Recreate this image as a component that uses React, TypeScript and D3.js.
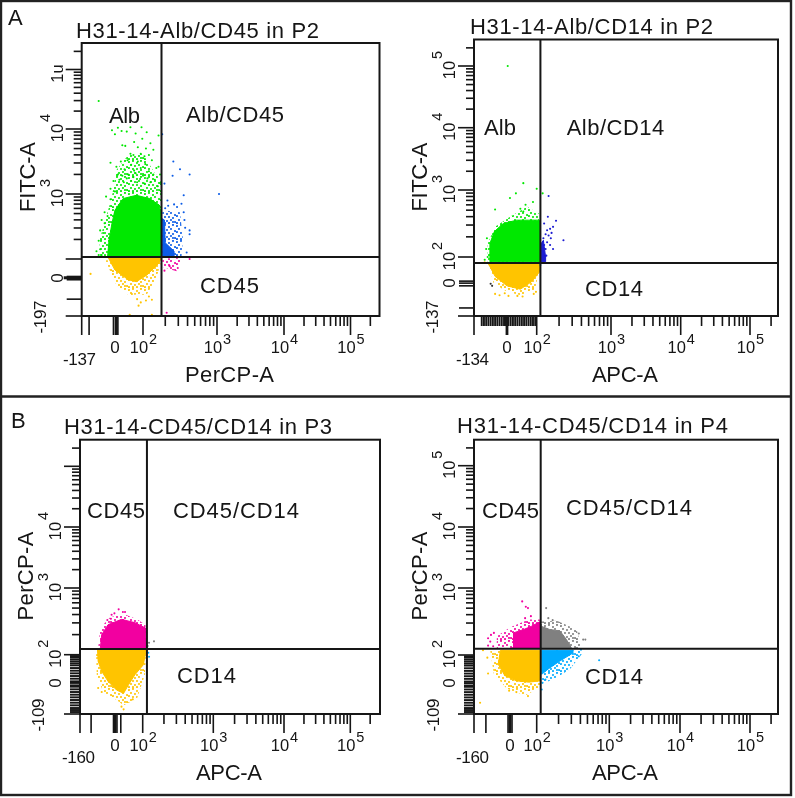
import React from "react";
import * as d3 from "d3";

type P = [number, number];

// All values are in display decades: 2 = the 10^2 tick, 3 = the 10^3 tick, and so on.
const GREEN = "#00e800", YELLOW = "#ffc400", BLUE = "#0a5ce6", NAVY = "#1a1ad2", PINK = "#f200a0", GREY = "#808080", CYAN = "#00aaff", INK = "#141414";

const a1GreenCore: P[] = [[1.52,2.03],[1.54,2.29],[1.58,2.55],[1.62,2.75],[1.73,2.93],[1.91,2.98],[2.09,2.93],[2.22,2.83],[2.25,2.65],[2.25,2.03]];
const a1GreenHalo: P[] = [[1.42,2.04],[1.41,2.29],[1.49,2.60],[1.58,2.96],[1.64,3.37],[1.80,3.60],[2.0,3.62],[2.16,3.32],[2.25,3.21],[2.25,2.03]];
const a1YellowCore: P[] = [[1.53,2.02],[1.62,1.83],[1.80,1.68],[1.91,1.65],[2.05,1.75],[2.21,1.93],[2.25,2.02]];
const a1YellowHalo: P[] = [[1.49,1.98],[1.64,1.60],[1.80,1.45],[2.05,1.45],[2.18,1.70],[2.25,1.98]];
const a1BlueCore: P[] = [[2.26,2.03],[2.26,2.62],[2.29,2.6],[2.30,2.25],[2.42,2.12],[2.42,2.03]];
const a1BlueHalo: P[] = [[2.26,2.03],[2.26,2.75],[2.50,2.72],[2.54,2.30],[2.52,2.03]];
const a1PinkHalo: P[] = [[2.26,2.01],[2.26,1.88],[2.45,1.81],[2.52,2.01]];
const a1GreenDots: P[] = [[1.40,4.47],[1.58,3.98],[1.62,3.92],[1.66,4.02],[1.71,3.97],[1.78,3.96],[1.83,4.03],[1.90,3.93],[1.98,4.03],[2.05,3.95],[2.21,3.90],
[1.72,3.75],[1.76,3.74],[1.88,3.80],[1.93,3.72],[1.99,3.85],[2.04,3.70],[2.10,3.78],[2.14,3.68],[1.83,3.62],[1.87,3.60],[1.97,3.62],[2.02,3.58],[2.08,3.60],
[1.56,3.48],[1.64,3.42],[1.70,3.50],[1.75,3.38],[1.79,3.52],[1.84,3.45],[1.88,3.36],[1.93,3.50],[1.97,3.40],[2.03,3.46],[2.08,3.35],[2.12,3.52],[2.18,3.40],[2.23,3.30],[1.66,3.30],[1.72,3.28],[1.80,3.30],[1.90,3.32],[2.00,3.28],[2.14,3.30],[2.21,3.42],
[1.60,3.20],[1.68,3.22],[1.74,3.18],[1.78,3.24],[1.84,3.20],[1.87,3.26],[1.92,3.18],[1.96,3.23],[2.02,3.16],[2.06,3.24],[2.10,3.18],[2.16,3.22],[2.20,3.12],[2.24,3.18],
[1.56,3.08],[1.62,3.04],[1.50,2.96],[1.56,2.92],[1.48,2.72],[1.52,2.66],[1.44,2.60],[1.48,2.55],[1.42,2.44],[1.46,2.40],[1.40,2.28],[1.37,2.12],[1.42,2.15],[1.44,2.06],[1.40,2.06]];
const a1BlueDots: P[] = [[2.26,3.92],[2.41,3.50],[2.50,3.38],[2.40,3.28],[2.63,3.30],[2.29,3.16],[3.03,3.00],[2.33,2.90],[2.55,2.98],[2.63,2.44],[2.63,2.38],[2.59,2.10],[2.42,2.84],[2.52,2.85],[2.56,2.60],[2.55,2.72],[2.57,2.48],[2.34,2.82],[2.46,2.80],[2.30,2.78]];
const a1PinkDots: P[] = [[2.63,2.00],[2.32,1.17],[2.29,1.82],[2.36,1.89],[2.47,1.86]];
const a1YellowDots: P[] = [[1.29,1.77],[1.82,1.14],[2.12,1.14],[1.85,1.46],[1.92,1.38],[1.97,1.33],[2.04,1.36],[1.94,1.28],[2.08,1.42],[2.12,1.37]];

const a2GreenCore: P[] = [[1.37,1.93],[1.37,2.20],[1.43,2.38],[1.55,2.50],[1.73,2.55],[1.89,2.55],[2.04,2.55],[2.04,1.93]];
const a2GreenHalo: P[] = [[1.34,1.93],[1.34,2.20],[1.44,2.45],[1.64,2.60],[1.87,2.75],[2.03,2.65],[2.04,1.93]];
const a2YellowCore: P[] = [[1.35,1.90],[1.44,1.71],[1.60,1.57],[1.78,1.52],[1.93,1.63],[2.04,1.78],[2.04,1.90]];
const a2YellowHalo: P[] = [[1.35,1.90],[1.42,1.61],[1.60,1.48],[1.78,1.43],[1.98,1.51],[2.04,1.88]];
const a2NavyCore: P[] = [[2.06,1.93],[2.06,2.2],[2.09,2.25],[2.12,2.0],[2.12,1.93]];
const a2GreenDots: P[] = [[1.61,5.00],[1.82,3.11],[2.00,3.02],[2.08,2.95],[1.72,2.95],[1.64,2.88],[1.44,2.71],[1.85,2.78],[1.95,2.82],[1.78,2.72],[1.82,2.68],[1.33,2.28],[1.32,2.12],[1.34,2.00],[1.30,1.96]];
const a2NavyDots: P[] = [[2.16,2.91],[2.15,2.60],[2.26,2.54],[2.22,2.45],[2.36,2.25],[2.10,2.50],[2.18,2.42],[2.14,2.40],[2.20,2.36],[2.16,2.32],[2.12,2.34],[2.19,2.28],[2.09,2.28],[2.14,2.22],[2.10,2.18],[2.18,2.18],[2.22,2.12],[2.12,2.12],[2.13,2.02]];
const a2YellowDots: P[] = [[1.30,1.92],[1.44,1.45],[1.50,1.43],[1.57,1.46],[1.62,1.42],[1.74,1.42],[1.81,1.41],[1.96,1.45],[1.99,1.48]];
const a2InkDots: P[] = [[1.38,1.60],[1.40,1.57]];
const a2CyanDots: P[] = [[2.05,1.88]];

const b1PinkCore: P[] = [[1.40,2.09],[1.42,2.30],[1.51,2.45],[1.70,2.53],[1.89,2.48],[2.04,2.40],[2.05,2.09]];
const b1PinkHalo: P[] = [[1.37,2.10],[1.40,2.40],[1.54,2.56],[1.73,2.61],[1.92,2.53],[2.04,2.45],[2.05,2.10]];
const b1YellowCore: P[] = [[1.36,2.08],[1.37,1.90],[1.42,1.75],[1.51,1.60],[1.63,1.47],[1.73,1.42],[1.80,1.55],[1.89,1.70],[2.01,1.85],[2.05,2.08]];
const b1YellowHalo: P[] = [[1.34,2.07],[1.35,1.70],[1.44,1.44],[1.63,1.32],[1.73,1.24],[1.92,1.34],[2.03,1.70],[2.05,2.07]];
const b1PinkDots: P[] = [[1.50,2.52],[1.55,2.54],[1.60,2.62],[1.66,2.68],[1.72,2.64],[1.75,2.64],[1.56,2.60]];
const b1YellowDots: P[] = [[1.37,1.50],[1.42,1.44],[1.70,1.22],[1.73,1.18],[1.86,1.33]];
const b1GreyDots: P[] = [[2.09,2.18],[2.16,2.20],[2.07,2.13]];
const b1CyanDots: P[] = [[2.08,2.03],[2.09,1.97]];

const b2PinkCore: P[] = [[1.68,2.10],[1.68,2.33],[1.82,2.38],[1.93,2.43],[2.05,2.50],[2.05,2.10]];
const b2PinkHalo: P[] = [[1.45,2.10],[1.45,2.28],[1.63,2.41],[1.89,2.53],[2.05,2.53],[2.05,2.10]];
const b2GreyCore: P[] = [[2.06,2.10],[2.06,2.43],[2.18,2.38],[2.32,2.36],[2.41,2.23],[2.48,2.10]];
const b2GreyHalo: P[] = [[2.06,2.10],[2.06,2.50],[2.28,2.51],[2.55,2.38],[2.62,2.10]];
const b2YellowCore: P[] = [[1.50,2.07],[1.47,1.86],[1.56,1.69],[1.72,1.61],[1.89,1.59],[2.05,1.61],[2.05,2.07]];
const b2YellowHalo: P[] = [[1.36,2.06],[1.41,1.71],[1.59,1.49],[1.84,1.39],[2.05,1.51],[2.05,2.07]];
const b2BlueCore: P[] = [[2.07,2.07],[2.07,1.71],[2.16,1.79],[2.32,1.91],[2.50,2.03],[2.50,2.07]];
const b2BlueHalo: P[] = [[2.07,2.07],[2.07,1.56],[2.28,1.66],[2.46,1.79],[2.62,2.01],[2.60,2.07]];
const b2PinkDots: P[] = [[1.37,2.30],[1.33,2.25],[1.36,2.20],[1.41,2.33],[1.40,2.13],[1.88,2.70],[1.80,2.80],[1.85,2.72],[1.92,2.58],[1.84,2.55],[1.33,2.14]];
const b2GreyDots: P[] = [[2.13,2.70],[2.16,2.55],[2.22,2.52],[2.58,2.32],[2.64,2.23],[2.67,2.23]];
const b2YellowDots: P[] = [[1.26,2.07],[1.32,1.96],[1.33,1.72],[1.22,1.28],[1.62,1.46],[1.72,1.44],[1.88,1.38]];
const b2BlueDots: P[] = [[2.08,1.58],[2.12,1.63],[2.86,1.92],[2.07,1.48],[2.58,1.98],[2.61,2.08]];

const a1XLow = [1.27, 1.60, 1.635, 1.66];
const a1YLow = [1.38, 1.68, 1.71, 1.73];
const a2XLow = [1.26,1.29,1.32,1.35,1.38,1.41,1.44,1.47,1.50,1.53,1.56,1.58,1.60,1.62,1.65,1.68,1.71,1.74,1.77,1.80,1.83,1.86,1.89,1.92,1.95,1.98];
const a2YLow = [1.24, 1.57, 1.61, 1.64];
const bYLow = [1.14,1.17,1.20,1.24,1.28,1.32,1.36,1.40,1.44,1.48,1.52,1.54,1.576,1.60,1.64,1.68,1.72,1.76,1.80,1.84,1.87,1.90,1.93,1.96,1.98];
const b1XLow = [1.27, 1.587, 1.608, 1.636, 1.69];
const b2XLow = [1.30, 1.605, 1.632, 1.66];

const xAnchors = [2, 3, 4, 5];
const yAnchors = [2, 3, 4, 5];
const xExponents = ["2", "3", "4", "5"];

type Layer = { core?: P[]; halo?: P[]; dots?: P[]; color: string };
type Txt = { t: string; x: number; y: number; w?: number };
type Cfg = {
  frame: [number, number, number, number];
  xu: number[]; xp: number[]; yu: number[]; yp: number[];
  gate: [number, number];
  xLow: number[]; yLow: number[]; xThick: number[]; yThick: number[];
  layers: Layer[];
  texts: Txt[];
  yLabel: { t: string; x: number; y: number; w: number };
  xMin: { t: string; x: number; y: number };
  yMin: { t: string; x: number; y: number };
  zeroX: number; zeroY: number; xBase: number;
  yLabels: (string | null)[];
};

const panels: Cfg[] = [
  {
    frame: [81.7, 43, 379.5, 316], xu: [1.17, 2, 3, 4, 5, 5.44], xp: [81.7, 143, 217, 284, 350.5, 379.5],
    yu: [1.12, 2, 3, 4, 5, 5.44], yp: [316, 259, 194, 129, 69.5, 43], gate: [2.25, 2.03],
    xLow: a1XLow, yLow: a1YLow, xThick: [1.635], yThick: [1.71],
    layers: [
      { halo: a1GreenHalo, core: a1GreenCore, dots: a1GreenDots, color: GREEN }, { halo: a1YellowHalo, core: a1YellowCore, dots: a1YellowDots, color: YELLOW },
      { halo: a1BlueHalo, core: a1BlueCore, dots: a1BlueDots, color: BLUE }, { halo: a1PinkHalo, dots: a1PinkDots, color: PINK },
    ],
    texts: [
      { t: "H31-14-Alb/CD45 in P2", x: 76, y: 38, w: 243 }, { t: "Alb", x: 109, y: 123, w: 31 },
      { t: "Alb/CD45", x: 186, y: 122, w: 98 }, { t: "CD45", x: 200, y: 293, w: 59 }, { t: "PerCP-A", x: 185, y: 382, w: 89 },
    ],
    yLabel: { t: "FITC-A", x: 35, y: 177, w: 70 }, xMin: { t: "-137", x: 63, y: 365 }, yMin: { t: "-197", x: 45.7, y: 317 },
    zeroX: 115, zeroY: 278, xBase: 353, yLabels: [null, "10", "10", "1u"],
  },
  {
    frame: [474, 39.5, 778, 316], xu: [1.156, 2, 3, 4, 5, 5.40], xp: [474, 536.7, 611, 680.7, 750, 778],
    yu: [1.12, 2, 3, 4, 5, 5.44], yp: [316, 257, 190, 127.7, 66, 39.5], gate: [2.05, 1.91],
    xLow: a2XLow, yLow: a2YLow, xThick: [1.60], yThick: [],
    layers: [
      { halo: a2GreenHalo, core: a2GreenCore, dots: a2GreenDots, color: GREEN }, { halo: a2YellowHalo, core: a2YellowCore, dots: a2YellowDots, color: YELLOW },
      { core: a2NavyCore, dots: a2NavyDots, color: NAVY }, { dots: a2InkDots, color: "#333" }, { dots: a2CyanDots, color: CYAN },
    ],
    texts: [
      { t: "H31-14-Alb/CD14 in P2", x: 470, y: 34, w: 243 }, { t: "Alb", x: 484, y: 135, w: 32 },
      { t: "Alb/CD14", x: 566.7, y: 135, w: 97.5 }, { t: "CD14", x: 585, y: 296, w: 58 }, { t: "APC-A", x: 592, y: 382, w: 66 },
    ],
    yLabel: { t: "FITC-A", x: 427, y: 177, w: 69 }, xMin: { t: "-134", x: 456, y: 365 }, yMin: { t: "-137", x: 438, y: 317 },
    zeroX: 507, zeroY: 283, xBase: 353, yLabels: ["10", "10", "10", "10"],
  },
  {
    frame: [80, 439.7, 380, 714], xu: [1.113, 2, 3, 4, 5, 5.45], xp: [80, 142.7, 213.3, 284, 350.3, 380],
    yu: [1.11, 2, 3, 4, 5, 5.44], yp: [714, 654.7, 588, 527, 466.3, 439.7], gate: [2.06, 2.085],
    xLow: b1XLow, yLow: bYLow, xThick: [1.608], yThick: [],
    layers: [
      { halo: b1PinkHalo, core: b1PinkCore, dots: b1PinkDots, color: PINK }, { halo: b1YellowHalo, core: b1YellowCore, dots: b1YellowDots, color: YELLOW },
      { dots: b1GreyDots, color: GREY }, { dots: b1CyanDots, color: CYAN },
    ],
    texts: [
      { t: "H31-14-CD45/CD14 in P3", x: 64, y: 433.7, w: 268 }, { t: "CD45", x: 87, y: 518, w: 58 },
      { t: "CD45/CD14", x: 173, y: 518, w: 126 }, { t: "CD14", x: 177, y: 683, w: 59 }, { t: "APC-A", x: 196, y: 780, w: 66 },
    ],
    yLabel: { t: "PerCP-A", x: 33, y: 576, w: 89 }, xMin: { t: "-160", x: 62, y: 763 }, yMin: { t: "-109", x: 44, y: 715 },
    zeroX: 115, zeroY: 683, xBase: 751, yLabels: ["10", "10", "10", null],
  },
  {
    frame: [474, 439.7, 778, 714], xu: [1.136, 2, 3, 4, 5, 5.40], xp: [474, 536.7, 609.3, 680, 750, 778],
    yu: [1.11, 2, 3, 4, 5, 5.44], yp: [714, 655, 588, 527, 465.7, 439.7], gate: [2.055, 2.095],
    xLow: b2XLow, yLow: bYLow, xThick: [1.632], yThick: [],
    layers: [
      { halo: b2PinkHalo, core: b2PinkCore, dots: b2PinkDots, color: PINK }, { halo: b2GreyHalo, core: b2GreyCore, dots: b2GreyDots, color: GREY },
      { halo: b2YellowHalo, core: b2YellowCore, dots: b2YellowDots, color: YELLOW }, { halo: b2BlueHalo, core: b2BlueCore, dots: b2BlueDots, color: CYAN },
    ],
    texts: [
      { t: "H31-14-CD45/CD14 in P4", x: 457, y: 433, w: 271 }, { t: "CD45", x: 482, y: 518, w: 57 },
      { t: "CD45/CD14", x: 566, y: 514.7, w: 126 }, { t: "CD14", x: 585, y: 684, w: 58 }, { t: "APC-A", x: 592, y: 780, w: 66 },
    ],
    yLabel: { t: "PerCP-A", x: 427, y: 576, w: 89 }, xMin: { t: "-160", x: 456, y: 763 }, yMin: { t: "-109", x: 439, y: 715 },
    zeroX: 510, zeroY: 683, xBase: 751, yLabels: ["10", "10", "10", "10"],
  },
];

const FONT = "'Liberation Sans', Arial, sans-serif";
const stippleColors = [GREEN, YELLOW, BLUE, PINK, GREY, CYAN];
const stippleTile: P[] = [[1,2],[5,1],[9,3],[13,1],[3,5],[7,6],[11,5],[15,7],[1,8],[5,9],[9,9],[13,10],[3,12],[7,13],[11,12],[15,14],[1,15],[9,15],[5,15],[13,14]];

function minorTicks(max: number) {
  const out: number[] = [];
  for (let d = 2; d <= 5; d++) for (let k = 2; k <= 9; k++) { const u = d + Math.log10(k); if (u < max) out.push(u); }
  return out;
}

function Panel({ c }: { c: Cfg }) {
  const [l, t, r, b] = c.frame;
  const x = d3.scaleLinear().domain(c.xu).range(c.xp);
  const y = d3.scaleLinear().domain(c.yu).range(c.yp);
  const area = d3.line<P>().x((d) => x(d[0])).y((d) => y(d[1])).curve(d3.curveLinearClosed);
  const xMax = c.xu[c.xu.length - 1], yMax = c.yu[c.yu.length - 1];
  const xLong = [c.xu[0], ...xAnchors];
  const yLong = [c.yu[0], ...yAnchors];
  const yExp = ["2", "3", "4", "5"];
  const denseX = c.xLow.length > 10, denseY = c.yLow.length > 10;
  return (
    <g>
      {c.layers.map((ly, i) => (
        <g key={i} fill={ly.color}>
          {ly.halo && <path d={area(ly.halo) ?? ""} fill={`url(#st${stippleColors.indexOf(ly.color)})`} />}
          {ly.core && <path d={area(ly.core) ?? ""} stroke={ly.color} strokeWidth={1} />}
          {ly.dots?.map((d, j) => <circle key={j} cx={x(d[0])} cy={y(d[1])} r={1.05} />)}
        </g>
      ))}
      <g stroke={INK} strokeWidth={1.6} fill="none">
        {minorTicks(xMax).map((u) => <line key={u} x1={x(u)} x2={x(u)} y1={b} y2={b + 10} />)}
        {minorTicks(yMax).map((u) => <line key={u} y1={y(u)} y2={y(u)} x1={l} x2={l - 8} />)}
        {xLong.map((u) => <line key={u} x1={x(u)} x2={x(u)} y1={b} y2={b + 19} />)}
        {yLong.map((u) => <line key={u} y1={y(u)} y2={y(u)} x1={l} x2={l - 16} />)}
        {c.xLow.map((u) => <line key={u} x1={x(u)} x2={x(u)} y1={b} y2={b + (denseX ? 10 : 19)} strokeWidth={denseX ? 1.9 : 1.6} />)}
        {c.yLow.map((u) => <line key={u} y1={y(u)} y2={y(u)} x1={l} x2={l - (denseY ? 10 : 15)} strokeWidth={denseY ? 1.9 : 1.6} />)}
        {c.xThick.map((u) => <line key={u} x1={x(u)} x2={x(u)} y1={b} y2={b + 19} strokeWidth={2.8} />)}
        {c.yThick.map((u) => <line key={u} y1={y(u)} y2={y(u)} x1={l} x2={l - 18} strokeWidth={3} />)}
        <rect x={l} y={t} width={r - l} height={b - t} strokeWidth={2} />
        <line x1={x(c.gate[0])} x2={x(c.gate[0])} y1={t} y2={b} strokeWidth={2} />
        <line x1={l} x2={r} y1={y(c.gate[1])} y2={y(c.gate[1])} strokeWidth={2} />
      </g>
      <g fill={INK} fontFamily={FONT}>
        {c.texts.map((s) => (
          <text key={s.t + s.x} x={s.x} y={s.y} fontSize={22} textLength={s.w} lengthAdjust="spacing">{s.t}</text>
        ))}
        <text transform={`translate(${c.yLabel.x},${c.yLabel.y}) rotate(-90)`} fontSize={22} textAnchor="middle" textLength={c.yLabel.w} lengthAdjust="spacing">{c.yLabel.t}</text>
        <text x={c.xMin.x} y={c.xMin.y} fontSize={17} textLength={33} lengthAdjust="spacing">{c.xMin.t}</text>
        <text transform={`translate(${c.yMin.x},${c.yMin.y}) rotate(-90)`} fontSize={17} textAnchor="middle" textLength={33} lengthAdjust="spacing">{c.yMin.t}</text>
        <text x={c.zeroX} y={c.xBase} fontSize={17} textAnchor="middle">0</text>
        <text transform={`translate(${l - 19},${c.zeroY}) rotate(-90)`} fontSize={17} textAnchor="middle">0</text>
        {xAnchors.map((u, i) => (
          <g key={u}>
            <text x={x(u) - 4} y={c.xBase} fontSize={16.5} textAnchor="middle">10</text>
            <text x={x(u) + 10} y={c.xBase - 9} fontSize={14.5} textAnchor="middle">{xExponents[i]}</text>
          </g>
        ))}
        {yAnchors.map((u, i) => {
          const lab = c.yLabels[i];
          if (!lab) return null;
          return (
            <g key={u}>
              <text transform={`translate(${l - 19},${y(u) + 4}) rotate(-90)`} fontSize={16.5} textAnchor="middle">{lab}</text>
              {lab === "10" && <text transform={`translate(${l - 32},${y(u) - 11}) rotate(-90)`} fontSize={14.5} textAnchor="middle">{yExp[i]}</text>}
            </g>
          );
        })}
      </g>
    </g>
  );
}

export default function App() {
  return (
    <svg width={795} height={798} style={{ position: "fixed", left: 0, top: 0, background: "#fff" }}>
      <defs>
        <filter id="soft" x="0" y="0" width="100%" height="100%">
          <feGaussianBlur stdDeviation={0.5} />
        </filter>
        {stippleColors.map((col, i) => (
          <pattern key={col} id={`st${i}`} width={16} height={16} patternUnits="userSpaceOnUse">
            {stippleTile.map((d, j) => <circle key={j} cx={d[0]} cy={d[1]} r={1.05} fill={col} />)}
          </pattern>
        ))}
      </defs>
      <g filter="url(#soft)">
        <rect width={795} height={798} fill="#fff" />
        <g stroke="#222" strokeWidth={2.4} fill="none">
          <rect x={1} y={1} width={790} height={794} />
          <line x1={1} x2={791} y1={396.5} y2={396.5} />
        </g>
        <g fill={INK} fontFamily={FONT} fontSize={22}>
          <text x={8} y={25}>A</text>
          <text x={11} y={428}>B</text>
        </g>
        {panels.map((c, i) => <Panel key={i} c={c} />)}
      </g>
    </svg>
  );
}
